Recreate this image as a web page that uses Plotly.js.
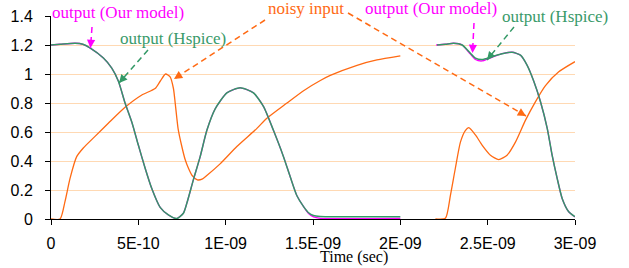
<!DOCTYPE html>
<html>
<head>
<meta charset="utf-8">
<script src="https://cdn.plot.ly/plotly-3.0.1.min.js"></script>
<style>html,body{margin:0;padding:0;background:#fff;}#chart{width:629px;height:268px;}</style>
</head>
<body>
<div id="chart"></div>
<script>
// Time in ns (axis labelled in seconds)
const tickVals = [0, 0.5, 1, 1.5, 2, 2.5, 3];
const tickLabels = ['0', '5E-10', '1E-09', '1.5E-09', '2E-09', '2.5E-09', '3E-09'];
const yTickVals = [0, 0.2, 0.4, 0.6, 0.8, 1, 1.2, 1.4];
const yTickLabels = ['0', '0.2', '0.4', '0.6', '0.8', '1', '1.2', '1.4'];

// noisy input, first pulse
const inputT1 = [0, 0.052, 0.080, 0.109, 0.147, 0.185, 0.252, 0.328, 0.424, 0.520, 0.596, 0.625, 0.656, 0.682, 0.701, 0.711, 0.720, 0.728, 0.749, 0.768, 0.787, 0.808, 0.838, 0.865, 0.892, 0.968, 1.064, 1.179, 1.236, 1.351, 1.446, 1.542, 1.599, 1.752, 1.866, 2.0];
const inputV1 = [0, 0, 0.12, 0.28, 0.43, 0.49, 0.57, 0.66, 0.77, 0.855, 0.90, 0.95, 1.00, 0.98, 0.90, 0.80, 0.70, 0.62, 0.50, 0.41, 0.35, 0.30, 0.27, 0.275, 0.30, 0.38, 0.50, 0.625, 0.695, 0.80, 0.885, 0.955, 0.99, 1.06, 1.097, 1.125];
// noisy input, second pulse
const inputT2 = [2.201, 2.258, 2.287, 2.315, 2.344, 2.372, 2.392, 2.430, 2.468, 2.516, 2.563, 2.611, 2.659, 2.716, 2.774, 2.831, 2.907, 3.0];
const inputV2 = [0, 0.005, 0.165, 0.35, 0.53, 0.61, 0.63, 0.58, 0.51, 0.44, 0.41, 0.44, 0.53, 0.68, 0.81, 0.92, 1.015, 1.085];

// output (Hspice), first segment
const hspiceT1 = [0, 0.052, 0.138, 0.183, 0.223, 0.300, 0.348, 0.386, 0.424, 0.462, 0.500, 0.539, 0.577, 0.625, 0.672, 0.720, 0.758, 0.778, 0.815, 0.854, 0.892, 0.940, 1.007, 1.083, 1.159, 1.217, 1.274, 1.331, 1.370, 1.408, 1.446, 1.473, 1.503, 1.542, 2.0];
const hspiceV1 = [1.20, 1.205, 1.212, 1.205, 1.18, 1.11, 1.04, 0.95, 0.80, 0.67, 0.51, 0.35, 0.21, 0.08, 0.028, 0.003, 0.04, 0.11, 0.27, 0.43, 0.61, 0.76, 0.87, 0.905, 0.87, 0.775, 0.61, 0.43, 0.29, 0.16, 0.085, 0.045, 0.024, 0.018, 0.016];
// output (Hspice), second segment
const hspiceT2 = [2.210, 2.258, 2.305, 2.354, 2.392, 2.430, 2.468, 2.525, 2.583, 2.640, 2.688, 2.726, 2.764, 2.802, 2.841, 2.869, 2.898, 2.927, 2.964, 3.0];
const hspiceV2 = [1.20, 1.205, 1.212, 1.20, 1.155, 1.11, 1.10, 1.12, 1.14, 1.15, 1.13, 1.06, 0.95, 0.81, 0.625, 0.44, 0.28, 0.14, 0.05, 0.016];

// output (Our model)
const modelT1 = hspiceT1;
const modelV1 = [1.20, 1.205, 1.212, 1.205, 1.18, 1.11, 1.04, 0.95, 0.80, 0.67, 0.51, 0.35, 0.21, 0.08, 0.028, 0.003, 0.04, 0.11, 0.27, 0.43, 0.61, 0.76, 0.87, 0.905, 0.87, 0.775, 0.61, 0.43, 0.29, 0.16, 0.085, 0.04, 0.015, 0.005, 0.004];
const modelT2 = [2.205, 2.258, 2.305, 2.354, 2.392, 2.430, 2.468, 2.525, 2.583, 2.640, 2.688, 2.726, 2.764, 2.802, 2.841, 2.869, 2.898, 2.927, 2.964, 3.0];
const modelV2 = [1.20, 1.205, 1.212, 1.20, 1.15, 1.10, 1.09, 1.115, 1.14, 1.15, 1.13, 1.06, 0.95, 0.81, 0.625, 0.44, 0.28, 0.14, 0.05, 0.014];

const orange = '#FF6A13';
const green = '#339966';
const magenta = '#FF00FF';

function tr(x, y, color, w) {
  return {x: x, y: y, type: 'scatter', mode: 'lines', hoverinfo: 'skip', showlegend: false,
    line: {color: color, width: w, shape: 'spline', smoothing: 0.6}};
}
const data = [
  tr(inputT1, inputV1, orange, 1.3),
  tr(inputT2, inputV2, orange, 1.3),
  tr(modelT1, modelV1, magenta, 1.3),
  tr(modelT2, modelV2, magenta, 1.3),
  tr(hspiceT1, hspiceV1, green, 1.5),
  tr(hspiceT2, hspiceV2, green, 1.5)
];

// plot area in pixels (for placing labels/arrows)
const L = 51, R = 575, T = 16, B = 219;
const px = X => (X - L) / (R - L);
const py = Y => (B - Y) / (B - T);

const labels = [
  {text: 'output (Our model)', x: 118, y: 13, color: magenta},
  {text: 'output (Hspice)', x: 173, y: 38, color: '#3A9A6A'},
  {text: 'noisy input', x: 306, y: 9, color: orange},
  {text: 'output (Our model)', x: 431, y: 9, color: magenta},
  {text: 'output (Hspice)', x: 555, y: 16, color: '#3A9A6A'}
];
const arrows = [
  {x0: 92, y0: 27, x1: 90.5, y1: 48, color: magenta},
  {x0: 148, y0: 50, x1: 119, y1: 83, color: green},
  {x0: 265, y0: 20, x1: 174, y1: 79, color: orange},
  {x0: 348, y0: 13, x1: 526, y1: 116, color: orange},
  {x0: 474, y0: 23, x1: 472.5, y1: 53, color: magenta},
  {x0: 514, y0: 27, x1: 487, y1: 60, color: green}
];

const annotations = labels.map(l => ({
  text: l.text, xref: 'paper', yref: 'paper', x: px(l.x), y: py(l.y),
  xanchor: 'center', yanchor: 'middle', showarrow: false,
  font: {family: 'Liberation Serif, Times New Roman, serif', size: 17, color: l.color}
}));
arrows.forEach(a => {
  const dx = a.x0 - a.x1, dy = a.y0 - a.y1;
  const n = Math.sqrt(dx * dx + dy * dy);
  annotations.push({
    text: '', xref: 'paper', yref: 'paper', x: px(a.x1), y: py(a.y1),
    ax: dx / n * 8, ay: dy / n * 8, showarrow: true, arrowhead: 2, arrowsize: 1.1,
    arrowwidth: 1.5, arrowcolor: a.color
  });
});
annotations.push({
  text: 'Time (sec)', xref: 'paper', yref: 'paper', x: px(354), y: py(257),
  xanchor: 'center', yanchor: 'middle', showarrow: false,
  font: {family: 'Liberation Serif, Times New Roman, serif', size: 16, color: '#000'}
});

const shapes = arrows.map(a => ({
  type: 'line', xref: 'paper', yref: 'paper',
  x0: px(a.x0), y0: py(a.y0), x1: px(a.x1), y1: py(a.y1),
  line: {color: a.color, width: 1.5, dash: '6px,4px'}
}));

const layout = {
  width: 629, height: 268,
  margin: {l: L, r: 629 - R, t: T, b: 268 - B, pad: 0},
  paper_bgcolor: '#fff', plot_bgcolor: '#fff',
  font: {family: 'Liberation Sans, Arial, sans-serif', size: 16, color: '#000'},
  xaxis: {
    range: [0, 3], tickvals: tickVals, ticktext: tickLabels,
    showgrid: false, zeroline: false, showline: true, linecolor: '#000', linewidth: 1,
    ticks: 'outside', ticklen: 5, tickcolor: '#000', ticklabelstandoff: 5, fixedrange: true
  },
  yaxis: {
    range: [0, 1.4], tickvals: yTickVals, ticktext: yTickLabels,
    showgrid: true, gridcolor: '#FFD9B3', gridwidth: 1,
    zeroline: false, showline: true, linecolor: '#000', linewidth: 1,
    ticks: 'outside', ticklen: 5, tickcolor: '#000', ticklabelstandoff: 9, fixedrange: true
  },
  annotations: annotations,
  shapes: shapes
};

Plotly.newPlot('chart', data, layout, {displayModeBar: false, staticPlot: true});
</script>
</body>
</html>
